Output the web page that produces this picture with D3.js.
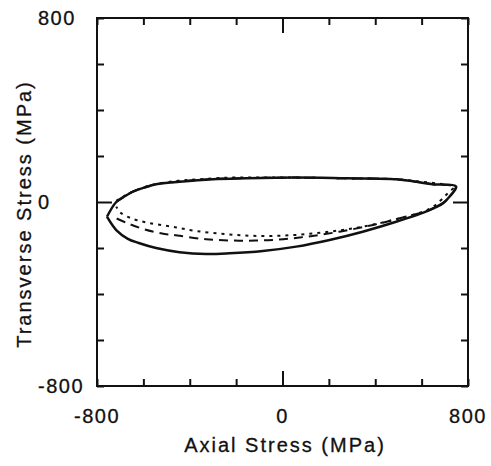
<!DOCTYPE html>
<html>
<head>
<meta charset="utf-8">
<script src="https://cdn.jsdelivr.net/npm/d3@7"></script>
<style>
html,body{margin:0;padding:0;background:#fff;}
svg text{font-family:"Liberation Sans",Arial,Helvetica,sans-serif;fill:#111;stroke:#111;stroke-width:0.3px;}
</style>
</head>
<body>
<svg id="chart" width="491" height="466"></svg>
<script>
// ---- data (MPa) ----
const xTickValues = [-800, -600, -400, -200, 0, 200, 400, 600, 800];
const yTickValues = [-800, -600, -400, -200, 0, 200, 400, 600, 800];
const xTickLabels = ["-800", "0", "800"];
const yTickLabels = ["-800", "0", "800"];

const solidX = [-757, -717, -680, -645, -595, -545, -444, -300, -157, 59, 275, 490, 577, 648, 749, 720, 691, 634, 490, 346, 203, 59, -85, -229, -329, -444, -545, -620, -667, -717, -757];
const solidY = [-64, 0, 25, 45, 63, 77, 88, 99, 103, 106, 103, 99, 88, 77, 67, 23, -6, -35, -86, -129, -165, -194, -213, -223, -226, -218, -200, -178, -160, -122, -64];

const dashedX = [-717, -680, -645, -595, -545, -444, -300, -157, 59, 275, 490, 577, 648, 745, 720, 691, 634, 505, 390, 246, 102, -42, -185, -329, -473, -509, -595, -667, -717];
const dashedY = [0, 25, 45, 63, 77, 89, 100, 104, 106, 103, 99, 88, 77, 66, 23, -6, -35, -71, -100, -129, -151, -165, -168, -162, -143, -139, -119, -93, -71];

const dottedX = [-717, -680, -640, -560, -450, -372, -229, -100, 59, 275, 490, 600, 700, 740, 720, 700, 680, 634, 490, 346, 203, 59, -85, -229, -372, -480, -581, -652, -700, -717];
const dottedY = [5, 28, 48, 75, 92, 98, 106, 107, 106, 103, 99, 88, 76, 66, 45, 25, 5, -30, -75, -107, -129, -143, -148, -141, -126, -107, -90, -71, -45, -20];

const xTitle = "Axial Stress (MPa)";
const yTitle = "Transverse Stress (MPa)";

// ---- layout ----
const svg = d3.select("#chart");
const L = 97, R = 468, T = 18, B = 386;
const x = d3.scaleLinear().domain([-800, 800]).range([L, R]);
const y = d3.scaleLinear().domain([-800, 800]).range([B, T]);

// frame
svg.append("rect").attr("x", L).attr("y", T).attr("width", R - L).attr("height", B - T)
  .attr("fill", "none").attr("stroke", "#111").attr("stroke-width", 2);

const tickLen = v => v === 0 ? 15 : 7;
const gB = svg.append("g").attr("transform", `translate(0,${B})`)
  .call(d3.axisBottom(x).tickValues(xTickValues).tickFormat("").tickSizeOuter(0));
const gT = svg.append("g").attr("transform", `translate(0,${T})`)
  .call(d3.axisTop(x).tickValues(xTickValues).tickFormat("").tickSizeOuter(0));
const gL = svg.append("g").attr("transform", `translate(${L},0)`)
  .call(d3.axisLeft(y).tickValues(yTickValues).tickFormat("").tickSizeOuter(0));
const gR = svg.append("g").attr("transform", `translate(${R},0)`)
  .call(d3.axisRight(y).tickValues(yTickValues).tickFormat("").tickSizeOuter(0));
[gB, gT, gL, gR].forEach(g => { g.select(".domain").remove(); g.selectAll("line").attr("stroke", "#111").attr("stroke-width", 2); });
gB.selectAll(".tick line").attr("y2", d => -tickLen(d));
gT.selectAll(".tick line").attr("y2", d => tickLen(d));
gL.selectAll(".tick line").attr("x2", d => tickLen(d));
gR.selectAll(".tick line").attr("x2", d => -tickLen(d));

// tick labels
svg.selectAll(".xl").data(xTickLabels).enter().append("text")
  .attr("x", d => x(+d)).attr("y", 423).attr("text-anchor", "middle")
  .attr("font-size", 20).attr("letter-spacing", 1.5).text(d => d);
svg.selectAll(".yl").data(yTickLabels).enter().append("text")
  .attr("x", 38).attr("y", d => y(+d) + 7).attr("text-anchor", "start")
  .attr("font-size", 20).attr("letter-spacing", 1.5).text(d => d);

// titles
svg.append("text").attr("x", 285).attr("y", 452).attr("text-anchor", "middle")
  .attr("font-size", 20).attr("letter-spacing", 2).text(xTitle);
svg.append("text").attr("transform", "translate(31,214) rotate(-90)").attr("text-anchor", "middle")
  .attr("font-size", 20).attr("letter-spacing", 2).text(yTitle);

// curves
const line = d3.line().x(d => x(d[0])).y(d => y(d[1])).curve(d3.curveCatmullRom.alpha(0.5));
const zip = (a, b) => a.map((v, i) => [v, b[i]]);
svg.append("path").datum(zip(dottedX, dottedY)).attr("d", line)
  .attr("fill", "none").attr("stroke", "#111").attr("stroke-width", 2).attr("stroke-dasharray", "3,5");
svg.append("path").datum(zip(dashedX, dashedY)).attr("d", line)
  .attr("fill", "none").attr("stroke", "#111").attr("stroke-width", 2).attr("stroke-dasharray", "9,6");
svg.append("path").datum(zip(solidX, solidY)).attr("d", line)
  .attr("fill", "none").attr("stroke", "#111").attr("stroke-width", 2.5).attr("stroke-linejoin", "round");
</script>
</body>
</html>
